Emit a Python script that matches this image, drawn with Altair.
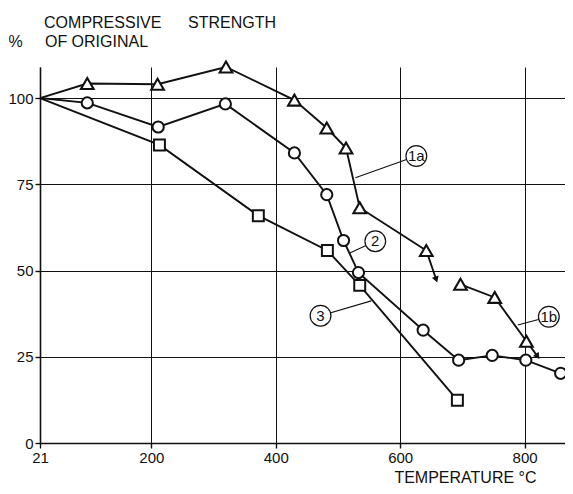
import altair as alt
import pandas as pd

# ---- data ----
s1a_temp = [21, 97, 210, 320, 430, 482, 513, 535, 642]
s1a_val = [100, 104.2, 104.0, 109.0, 99.4, 91.3, 85.5, 68.2, 55.8]
s1b_temp = [697, 752, 803]
s1b_val = [46.0, 42.2, 29.5]
s2_temp = [21, 97, 211, 319, 430, 482, 509, 533, 637, 694, 748, 802, 858]
s2_val = [100, 98.6, 91.6, 98.3, 84.1, 72.0, 58.7, 49.4, 32.7, 24.0, 25.4, 24.0, 20.2]
s3_temp = [21, 213, 372, 483, 535, 692]
s3_val = [100, 86.4, 65.9, 55.8, 45.7, 12.4]

arrow_names = ["1a", "1b"]
arrow_from_temp = [642, 803]
arrow_from_val = [55.8, 29.5]
arrow_to_temp = [658, 821]
arrow_to_val = [47.4, 25.1]

label_names = ["1a", "2", "3", "1b"]
label_temp = [626, 560, 472, 839]
label_val = [83.2, 58.5, 36.9, 36.6]
leader_temp = [528, 519, 553.5, 789]
leader_val = [76.9, 55.1, 41.2, 34.2]

x_ticks = [21, 200, 400, 600, 800]
y_ticks = [0, 25, 50, 75, 100]

y_title_lines = ["COMPRESSIVE", "STRENGTH", "%", "OF ORIGINAL"]
x_title = "TEMPERATURE °C"

# ---- tables ----
rows = []
for name, ts, vs in [("1a", s1a_temp, s1a_val), ("1b", s1b_temp, s1b_val),
                     ("2", s2_temp, s2_val), ("3", s3_temp, s3_val)]:
    for i, (t, v) in enumerate(zip(ts, vs)):
        rows.append({"series": name, "temp": t, "val": v, "idx": i,
                     "marker": not (t == 21)})
df = pd.DataFrame(rows)

arrows = pd.DataFrame({"name": arrow_names, "temp": arrow_from_temp, "val": arrow_from_val,
                       "temp2": arrow_to_temp, "val2": arrow_to_val})
labels = pd.DataFrame({"name": label_names, "temp": label_temp, "val": label_val,
                       "temp2": leader_temp, "val2": leader_val})

FONT = "Liberation Sans"
NB = "\u00a0"
ZW = "\u200b"
y_title = [ZW + NB * 8 + y_title_lines[0] + NB * 6 + y_title_lines[1],
           y_title_lines[2] + NB * 5 + y_title_lines[3]]

X = alt.X("temp:Q",
          scale=alt.Scale(domain=[21, 865], nice=False, zero=False),
          axis=alt.Axis(values=x_ticks, title=x_title, labelFlush=False,
                        labelFontSize=15, labelPadding=2, tickSize=5,
                        titleX=496, titleY=39, titleAlign="right",
                        titleBaseline="alphabetic", titleFontSize=16,
                        titleFontWeight="normal", grid=True, labelOverlap=False))
Y = alt.Y("val:Q",
          scale=alt.Scale(domain=[0, 109], nice=False, zero=True),
          axis=alt.Axis(values=y_ticks, title=y_title, labelFontSize=15, labelPadding=2,
                        tickSize=5, titleAngle=0, titleX=-32, titleY=-53,
                        titleAlign="left", titleBaseline="top", titleLineHeight=19,
                        titleFontSize=16, titleFontWeight="normal", grid=True))

lines = alt.Chart(df).mark_line(color="#111", strokeWidth=1.9).encode(
    x=X, y=Y, detail="series:N", order="idx:Q")

arrow_lines = alt.Chart(arrows).mark_rule(color="#111", strokeWidth=1.9).encode(
    x=X, y=Y, x2="temp2:Q", y2="val2:Q")

head_a = alt.Chart(arrows).transform_filter(alt.datum.name == "1a").mark_point(
    shape="triangle-up", filled=True, color="#111", size=50, opacity=1).encode(
    x=alt.X("temp2:Q"), y=alt.Y("val2:Q"), angle=alt.value(161))
head_b = alt.Chart(arrows).transform_filter(alt.datum.name == "1b").mark_point(
    shape="triangle-up", filled=True, color="#111", size=50, opacity=1).encode(
    x=alt.X("temp2:Q"), y=alt.Y("val2:Q"), angle=alt.value(144))

base_m = alt.Chart(df).transform_filter(alt.datum.marker)
tri = base_m.transform_filter((alt.datum.series == "1a") | (alt.datum.series == "1b")).mark_point(
    shape="triangle-up", filled=True, fill="white", stroke="#111", strokeWidth=2.1,
    size=160, opacity=1).encode(x=X, y=Y)
circ = base_m.transform_filter(alt.datum.series == "2").mark_point(
    shape="circle", filled=True, fill="white", stroke="#111", strokeWidth=2,
    size=125, opacity=1).encode(x=X, y=Y)
sq = base_m.transform_filter(alt.datum.series == "3").mark_point(
    shape="square", filled=True, fill="white", stroke="#111", strokeWidth=2,
    size=120, opacity=1).encode(x=X, y=Y)

leaders = alt.Chart(labels).mark_rule(color="#111", strokeWidth=1.1).encode(
    x=X, y=Y, x2="temp2:Q", y2="val2:Q")
lab_circ = alt.Chart(labels).mark_point(
    shape="circle", filled=True, fill="white", stroke="#111", strokeWidth=1.2,
    size=430, opacity=1).encode(x=X, y=Y)
lab_text = alt.Chart(labels).mark_text(font=FONT, fontSize=15, color="#111",
                                       baseline="middle", align="center").encode(
    x=X, y=Y, text="name:N")

chart = alt.layer(lines, arrow_lines, head_a, head_b, tri, circ, sq,
                  leaders, lab_circ, lab_text).properties(
    width=525, height=376,
    autosize=alt.AutoSizeParams(type="none"),
    padding={"left": 32, "top": 59, "right": 0, "bottom": 43},
).configure(font=FONT).configure_view(stroke=None).configure_axis(
    domainColor="#111", domainWidth=1.6, tickColor="#111", tickWidth=1.4,
    gridColor="#111", gridWidth=1, gridOpacity=1,
    labelColor="#111", titleColor="#111", labelFont=FONT, titleFont=FONT)

chart.save("out.html", embed_options={"renderer": "svg", "actions": False})
